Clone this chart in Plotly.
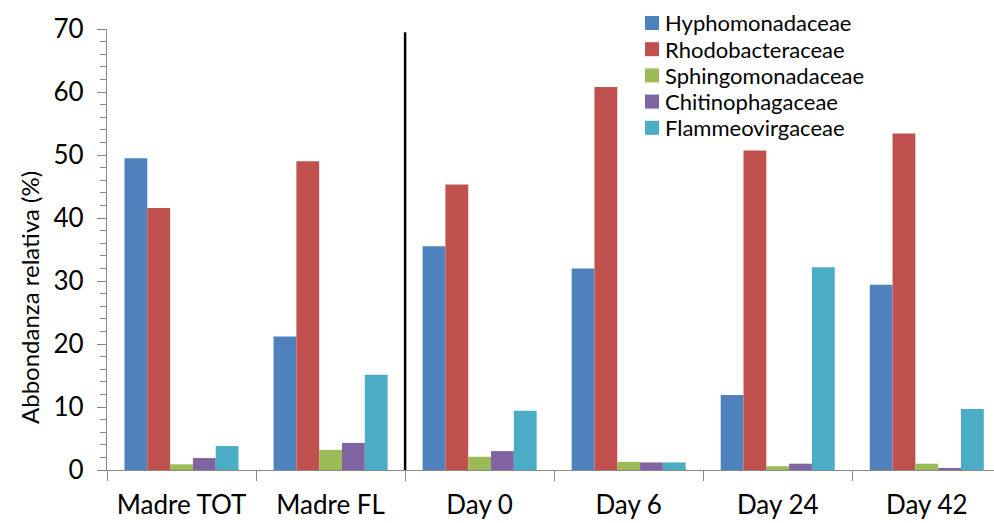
import plotly.graph_objects as go

# Samples and family-level relative abundances (%)
categories = ["Madre TOT", "Madre FL", "Day 0", "Day 6", "Day 24", "Day 42"]
hyphomonadaceae = [49.5, 21.2, 35.5, 32.0, 11.9, 29.4]
rhodobacteraceae = [41.6, 49.0, 45.3, 60.8, 50.7, 53.4]
sphingomonadaceae = [0.9, 3.2, 2.1, 1.3, 0.6, 1.0]
chitinophagaceae = [1.9, 4.3, 3.0, 1.2, 1.0, 0.3]
flammeovirgaceae = [3.8, 15.1, 9.4, 1.2, 32.2, 9.7]

series = [
    ("Hyphomonadaceae", hyphomonadaceae, "#4F81BD"),
    ("Rhodobacteraceae", rhodobacteraceae, "#C0504D"),
    ("Sphingomonadaceae", sphingomonadaceae, "#9BBB59"),
    ("Chitinophagaceae", chitinophagaceae, "#8064A2"),
    ("Flammeovirgaceae", flammeovirgaceae, "#4BACC6"),
]

# mother-culture samples are separated from the time series by a vertical rule
n_mother = sum(1 for c in categories if c.startswith("Madre"))

FONT = "Lato"
AXIS_GREY = "#898989"
W, H = 994, 523
M_L, M_R, M_T, M_B = 107, 0, 29, 53
PLOT_W = W - M_L - M_R
PLOT_H = H - M_T - M_B


def px_to_paper_x(px):
    return (px - M_L) / PLOT_W


def px_to_paper_y(py):
    return (H - M_B - py) / PLOT_H


fig = go.Figure()
for name, vals, color in series:
    fig.add_trace(go.Bar(
        x=categories, y=vals, name=name, showlegend=False,
        marker=dict(color=color, line=dict(width=0)),
    ))

fig.add_shape(
    type="line", xref="x", yref="y",
    x0=n_mother - 0.5, x1=n_mother - 0.5, y0=0, y1=69.5,
    line=dict(color="black", width=2.5),
)

# compact legend: coloured squares with labels, stacked top-right
annotations = []
LEG_SQ_X, LEG_SQ = 645, 14
LEG_TOP, LEG_STEP = 23, 26.2
for i, (name, _, color) in enumerate(series):
    cy = LEG_TOP + i * LEG_STEP
    fig.add_shape(
        type="rect", xref="paper", yref="paper",
        x0=px_to_paper_x(LEG_SQ_X), x1=px_to_paper_x(LEG_SQ_X + LEG_SQ),
        y0=px_to_paper_y(cy + LEG_SQ / 2), y1=px_to_paper_y(cy - LEG_SQ / 2),
        fillcolor=color, line=dict(width=0),
    )
    annotations.append(dict(
        text=name, xref="paper", yref="paper",
        x=px_to_paper_x(LEG_SQ_X + LEG_SQ + 4), y=px_to_paper_y(cy),
        xanchor="left", yanchor="middle", showarrow=False,
        font=dict(size=22, family=FONT, color="black"),
    ))

annotations.append(dict(
    text="Abbondanza relativa (%)", textangle=-90,
    xref="paper", yref="y", x=px_to_paper_x(29), y=27.3,
    xanchor="center", yanchor="middle", showarrow=False,
    font=dict(size=24, family=FONT, color="black"),
))

fig.update_layout(
    width=W, height=H,
    margin=dict(l=M_L, r=M_R, t=M_T, b=M_B, autoexpand=False),
    paper_bgcolor="white", plot_bgcolor="white",
    barmode="group", bargap=0.235, bargroupgap=0,
    font=dict(family=FONT, color="black"),
    showlegend=False,
    xaxis=dict(
        type="category", range=[-0.5, 5.451], automargin=False,
        showline=True, linecolor=AXIS_GREY, linewidth=1.3,
        ticks="outside", tickson="boundaries", ticklen=10,
        tickcolor=AXIS_GREY, tickwidth=1.3,
        tickfont=dict(size=26, family=FONT),
        ticklabelstandoff=12,
        showgrid=False, zeroline=False,
    ),
    yaxis=dict(
        range=[0, 70], dtick=10, tick0=0, automargin=False,
        showline=True, linecolor=AXIS_GREY, linewidth=1.3,
        ticks="outside", ticklen=9, tickcolor=AXIS_GREY, tickwidth=1.3,
        minor=dict(dtick=2, ticks="outside", ticklen=6, tickcolor=AXIS_GREY,
                   tickwidth=1, showgrid=False),
        tickfont=dict(size=26, family=FONT),
        ticklabelstandoff=8,
        showgrid=False, zeroline=False,
    ),
    annotations=annotations,
)

fig.write_html("out.html")
